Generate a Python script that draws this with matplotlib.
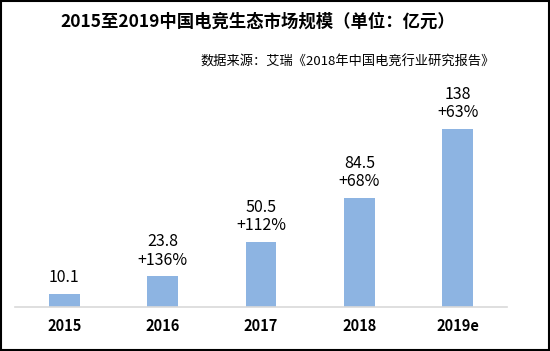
import matplotlib.pyplot as plt
from matplotlib.patches import Rectangle

plt.rcParams['font.family'] = ['Noto Sans CJK SC', 'DejaVu Sans']

# 数据
years = ['2015', '2016', '2017', '2018', '2019e']
values = [10.1, 23.8, 50.5, 84.5, 138]
growth = ['', '+136%', '+112%', '+68%', '+63%']

fig = plt.figure(figsize=(5.5, 3.51), dpi=100)
ax = fig.add_axes([15 / 550, 1 - 307 / 351, 492 / 550, 227 / 351])

x = range(len(years))
bars = ax.bar(x, values, width=0.315, color='#8db4e2')

for i, b in enumerate(bars):
    txt = f'{values[i]:g}' if not growth[i] else f'{values[i]:g}\n{growth[i]}'
    ax.text(b.get_x() + b.get_width() / 2, b.get_height() + 6, txt,
            ha='center', va='bottom', fontsize=11.5, linespacing=1.1)

ax.set_xlim(-0.5, 4.5)
ax.set_ylim(0, 176)
ax.set_xticks(list(x))
ax.set_xticklabels(years, fontsize=10.5, fontweight='bold')
ax.set_yticks([])
ax.tick_params(axis='x', length=0, pad=8)
for s in ['top', 'right', 'left']:
    ax.spines[s].set_visible(False)
ax.spines['bottom'].set_color('#d9d9d9')
ax.spines['bottom'].set_linewidth(1.2)

fig.text(258 / 550, 1 - 22 / 351, '2015至2019中国电竞生态市场规模（单位：亿元）',
         ha='center', va='center', fontsize=12.5, fontweight='bold')
fig.text(495 / 550, 1 - 62 / 351, '数据来源：艾瑞《2018年中国电竞行业研究报告》',
         ha='right', va='center', fontsize=9.5)

# 外框
fig.patches.append(Rectangle((0.001, 0.002), 0.997, 0.995, transform=fig.transFigure,
                             fill=False, edgecolor='black', linewidth=1.5))

fig.savefig('out.png', dpi=100)
